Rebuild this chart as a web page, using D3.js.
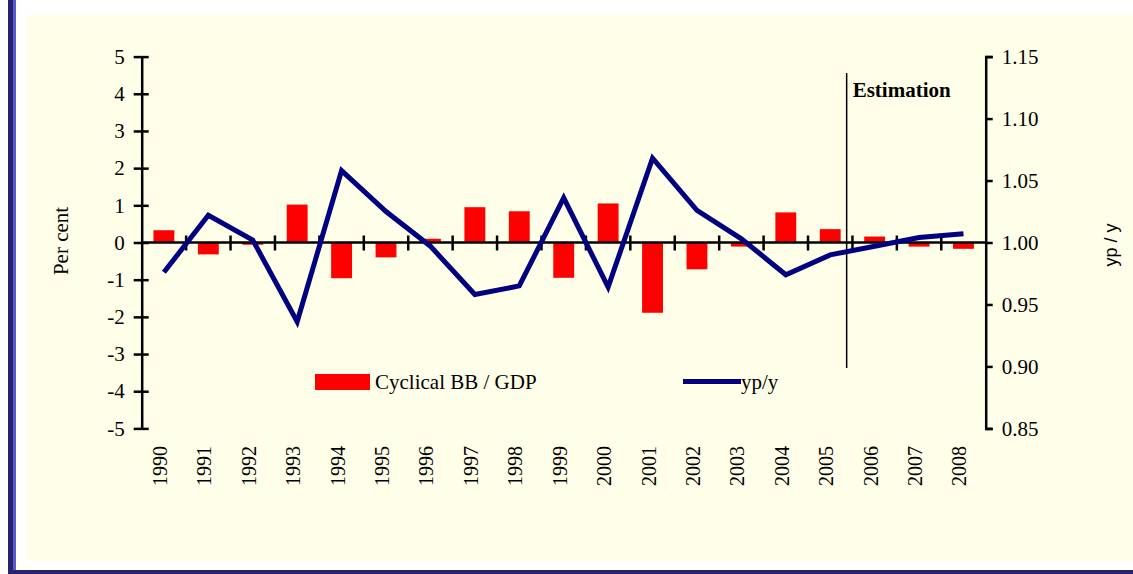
<!DOCTYPE html>
<html>
<head>
<meta charset="utf-8">
<script src="https://cdn.jsdelivr.net/npm/d3@7"></script>
<style>
  body { margin: 0; background: #fff; }
  svg { display: block; }
</style>
</head>
<body>
<svg id="chart" width="1133" height="574"></svg>
<script>
// data
var years = ["1990","1991","1992","1993","1994","1995","1996","1997","1998","1999",
             "2000","2001","2002","2003","2004","2005","2006","2007","2008"];
var cyclicalBB = [0.33,-0.32,-0.06,1.02,-0.96,-0.4,0.1,0.95,0.84,-0.95,
                  1.05,-1.89,-0.72,-0.11,0.81,0.36,0.16,-0.11,-0.17];
var ypy = [0.976,1.022,1.002,0.936,1.058,1.025,0.997,0.958,0.965,1.036,
           0.964,1.068,1.026,1.003,0.974,0.990,0.997,1.004,1.007];
var leftTicks = [5,4,3,2,1,0,-1,-2,-3,-4,-5];
var rightTicks = [1.15,1.10,1.05,1.00,0.95,0.90,0.85];

var serif = "'Liberation Serif', 'Times New Roman', serif";

var svg = d3.select("#chart");

// frame: navy left & bottom bars, cream panel
svg.append("rect").attr("x", 8).attr("y", 0).attr("width", 6).attr("height", 574).style("fill", "#27246b");
svg.append("rect").attr("x", 13).attr("y", 0).attr("width", 3).attr("height", 570).style("fill", "#5a5ad2");
svg.append("rect").attr("x", 8).attr("y", 570).attr("width", 1125).attr("height", 4).style("fill", "#27246b");
svg.append("rect").attr("x", 26).attr("y", 15).attr("width", 1107).attr("height", 546).style("fill", "#fffee8");

// plot box (top is a reserved global, so use prefixed names)
var plotL = 141.7, plotR = 985.7, plotT = 56.6, plotB = 428.4;

var x = d3.scaleBand().domain(years).range([plotL, plotR]).paddingInner(0).paddingOuter(0);
var yL = d3.scaleLinear().domain([-5, 5]).range([plotB, plotT]);
var yR = d3.scaleLinear().domain([0.85, 1.15]).range([plotB, plotT]);

// bars
svg.append("g").selectAll("rect")
  .data(years)
  .enter().append("rect")
  .attr("x", function(d){ return x(d) + x.bandwidth() * 0.265; })
  .attr("width", x.bandwidth() * 0.47)
  .attr("y", function(d, i){ return yL(Math.max(0, cyclicalBB[i])); })
  .attr("height", function(d, i){ return Math.abs(yL(cyclicalBB[i]) - yL(0)); })
  .style("fill", "#ff0000");

// left axis
var axisL = d3.axisLeft(yL).tickValues(leftTicks).tickSize(0).tickPadding(17)
  .tickFormat(function(d){ return d; });
var gL = svg.append("g").attr("transform", "translate(" + plotL + ",0)").call(axisL);
gL.select(".domain").attr("stroke", "#000").attr("stroke-width", 2.5);
gL.selectAll(".tick").append("line").attr("x1", -8).attr("x2", 7).attr("stroke", "#000").attr("stroke-width", 2.5);

// right axis
var axisR = d3.axisRight(yR).tickValues(rightTicks).tickSize(7).tickPadding(9)
  .tickFormat(d3.format(".2f"));
var gR = svg.append("g").attr("transform", "translate(" + plotR + ",0)").call(axisR);
gR.select(".domain").attr("stroke", "#000").attr("stroke-width", 2.5);
gR.selectAll(".tick line").attr("stroke", "#000").attr("stroke-width", 2.5);

[gL, gR].forEach(function(g){
  g.selectAll(".tick text").style("font-family", serif).style("font-size", "21px").style("fill", "#000");
});

// x axis at zero, ticks on category boundaries
var xAxisY = yL(0);
svg.append("line").attr("x1", plotL).attr("x2", plotR).attr("y1", xAxisY).attr("y2", xAxisY)
  .attr("stroke", "#000").attr("stroke-width", 2.5);
svg.append("g").selectAll("line")
  .data(years.slice(1))
  .enter().append("line")
  .attr("x1", function(d){ return x(d); })
  .attr("x2", function(d){ return x(d); })
  .attr("y1", xAxisY - 7).attr("y2", xAxisY + 8)
  .attr("stroke", "#000").attr("stroke-width", 2.5);

// year labels, rotated
svg.append("g").selectAll("text")
  .data(years)
  .enter().append("text")
  .attr("transform", function(d){ return "translate(" + (x(d) + x.bandwidth() / 2 + 3) + ",446) rotate(-90)"; })
  .attr("text-anchor", "end")
  .style("font-family", serif).style("font-size", "20px")
  .text(function(d){ return d; });

// estimation marker
var estX = x("2005") + x.bandwidth() * 0.87;
svg.append("line").attr("x1", estX).attr("x2", estX).attr("y1", 73).attr("y2", 368)
  .attr("stroke", "#000").attr("stroke-width", 1.5);
svg.append("text").attr("x", estX + 6).attr("y", 97)
  .style("font-family", serif).style("font-size", "21px").style("font-weight", "bold")
  .text("Estimation");

// yp/y line
var line = d3.line()
  .x(function(d, i){ return x(years[i]) + x.bandwidth() / 2; })
  .y(function(d){ return yR(d); });
svg.append("path").datum(ypy)
  .attr("d", line)
  .attr("fill", "none")
  .attr("stroke", "#000080")
  .attr("stroke-width", 5)
  .attr("stroke-linejoin", "miter");

// axis titles
svg.append("text").attr("transform", "translate(68,241) rotate(-90)")
  .attr("text-anchor", "middle")
  .style("font-family", serif).style("font-size", "21px")
  .text("Per cent");
svg.append("text").attr("transform", "translate(1117,245) rotate(-90)")
  .attr("text-anchor", "middle")
  .style("font-family", "'Liberation Sans', Arial, sans-serif").style("font-size", "18px")
  .text("yp / y");

// legend
svg.append("rect").attr("x", 315).attr("y", 374).attr("width", 55).attr("height", 16).style("fill", "#ff0000");
svg.append("text").attr("x", 375).attr("y", 389)
  .style("font-family", serif).style("font-size", "21px")
  .text("Cyclical BB / GDP");
svg.append("line").attr("x1", 683).attr("x2", 741).attr("y1", 381.5).attr("y2", 381.5)
  .attr("stroke", "#000080").attr("stroke-width", 5);
svg.append("text").attr("x", 741).attr("y", 389)
  .style("font-family", serif).style("font-size", "21px")
  .text("yp/y");
</script>
</body>
</html>
